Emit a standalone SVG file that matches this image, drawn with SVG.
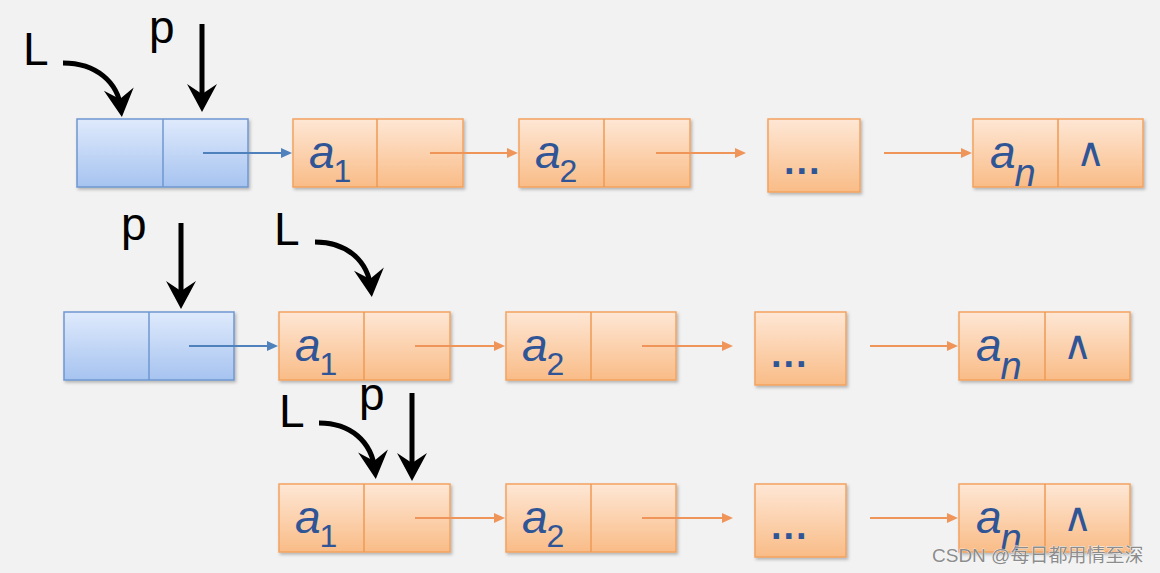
<svg xmlns="http://www.w3.org/2000/svg" width="1160" height="573" viewBox="0 0 1160 573">
<defs>
<linearGradient id="gBlue" x1="0" y1="0" x2="0" y2="1">
<stop offset="0" stop-color="#dfeafc"/><stop offset="1" stop-color="#a6c3f0"/>
</linearGradient>
<linearGradient id="gOrange" x1="0" y1="0" x2="0" y2="1">
<stop offset="0" stop-color="#fee7d5"/><stop offset="1" stop-color="#f9bc87"/>
</linearGradient>
<filter id="sh" x="-10%" y="-10%" width="130%" height="140%">
<feDropShadow dx="1.5" dy="2" stdDeviation="1.5" flood-color="#000" flood-opacity="0.25"/>
</filter>
<marker id="big" markerUnits="userSpaceOnUse" viewBox="-22 -17 32 34" refX="0" refY="0" markerWidth="32" markerHeight="34" orient="auto">
<path d="M8,0 L-20,-15 L-10,0 L-20,15 Z" fill="#000"/>
</marker>
<marker id="sb" markerUnits="userSpaceOnUse" viewBox="-10 -6 14 12" refX="0" refY="0" markerWidth="14" markerHeight="12" orient="auto">
<path d="M3,0 L-8,-5 L-8,5 Z" fill="#4f81bd"/>
</marker>
<marker id="so" markerUnits="userSpaceOnUse" viewBox="-10 -6 14 12" refX="0" refY="0" markerWidth="14" markerHeight="12" orient="auto">
<path d="M3,0 L-8,-5 L-8,5 Z" fill="#f0955a"/>
</marker>
<style>
.bn{fill:url(#gBlue);stroke:#6f97d0;stroke-width:1.5;filter:url(#sh)}
.bd{stroke:#6f97d0;stroke-width:1.5}
.on{fill:url(#gOrange);stroke:#f3a35f;stroke-width:1.5;filter:url(#sh)}
.od{stroke:#ee9a55;stroke-width:1.5}
.a{font-family:"Liberation Sans","DejaVu Sans",sans-serif;font-style:italic;font-size:46px;fill:#2f5597}
.sub{font-style:normal;font-size:32px}
.subn{font-size:38px}
.nil{font-family:"DejaVu Sans","Liberation Sans",sans-serif;font-size:40px;fill:#2f5597}
.dots{font-family:"Liberation Sans",sans-serif;font-weight:bold;font-size:38px;letter-spacing:2px;fill:#2f5597}
.lbl{font-family:"Liberation Sans","DejaVu Sans",sans-serif;font-size:46px;fill:#000}
.ptr{fill:none;stroke:#000;stroke-width:5;marker-end:url(#big)}
.cb{stroke:#4f81bd;stroke-width:2;marker-end:url(#sb)}
.co{stroke:#f0955a;stroke-width:2;marker-end:url(#so)}
.wm{font-family:"Liberation Sans","Noto Sans CJK SC",sans-serif;font-size:19px;fill:#8c8c8c;stroke:#fff;stroke-width:0.6;paint-order:stroke}
</style>
</defs>
<rect width="1160" height="573" fill="#f2f2f2"/>

<!-- Row 1 -->
<g id="r1-head"><rect class="bn" x="77" y="119" width="171" height="68"/><line class="bd" x1="163" y1="119" x2="163" y2="187"/></g>
<g id="r1-a1"><rect class="on" x="293" y="119" width="170" height="68"/><line class="od" x1="377" y1="119" x2="377" y2="187"/><text class="a" x="309" y="168">a<tspan class="sub" dx="-1" dy="14">1</tspan></text></g>
<g id="r1-a2"><rect class="on" x="519" y="119" width="171" height="68"/><line class="od" x1="604" y1="119" x2="604" y2="187"/><text class="a" x="535" y="168">a<tspan class="sub" dx="-1" dy="14">2</tspan></text></g>
<g id="r1-dots"><rect class="on" x="768" y="119" width="92" height="73"/><text class="dots" x="784" y="174">...</text></g>
<g id="r1-an"><rect class="on" x="973" y="119" width="170" height="68"/><line class="od" x1="1058" y1="119" x2="1058" y2="187"/><text class="a" x="990" y="168">a<tspan class="subn" dx="-1" dy="18">n</tspan></text><text class="nil" x="1076" y="166">∧</text></g>
<g id="r1-L"><text class="lbl" x="23" y="65">L</text></g>
<g id="r1-p"><text class="lbl" x="149" y="43">p</text></g>

<!-- Row 2 -->
<g id="r2-head"><rect class="bn" x="64" y="312" width="170" height="68"/><line class="bd" x1="149" y1="312" x2="149" y2="380"/></g>
<g id="r2-a1"><rect class="on" x="279" y="312" width="171" height="68"/><line class="od" x1="364" y1="312" x2="364" y2="380"/><text class="a" x="295" y="361">a<tspan class="sub" dx="-1" dy="14">1</tspan></text></g>
<g id="r2-a2"><rect class="on" x="506" y="312" width="170" height="68"/><line class="od" x1="591" y1="312" x2="591" y2="380"/><text class="a" x="522" y="361">a<tspan class="sub" dx="-1" dy="14">2</tspan></text></g>
<g id="r2-dots"><rect class="on" x="755" y="312" width="91" height="73"/><text class="dots" x="771" y="367">...</text></g>
<g id="r2-an"><rect class="on" x="959" y="312" width="171" height="68"/><line class="od" x1="1045" y1="312" x2="1045" y2="380"/><text class="a" x="976" y="361">a<tspan class="subn" dx="-1" dy="18">n</tspan></text><text class="nil" x="1063" y="359">∧</text></g>
<g id="r2-p"><text class="lbl" x="121" y="240">p</text></g>
<g id="r2-L"><text class="lbl" x="274" y="245">L</text></g>

<!-- Row 3 -->
<g id="r3-a1"><rect class="on" x="279" y="484" width="171" height="68"/><line class="od" x1="364" y1="484" x2="364" y2="552"/><text class="a" x="295" y="533">a<tspan class="sub" dx="-1" dy="14">1</tspan></text></g>
<g id="r3-a2"><rect class="on" x="506" y="484" width="170" height="68"/><line class="od" x1="591" y1="484" x2="591" y2="552"/><text class="a" x="522" y="533">a<tspan class="sub" dx="-1" dy="14">2</tspan></text></g>
<g id="r3-dots"><rect class="on" x="755" y="484" width="91" height="73"/><text class="dots" x="771" y="539">...</text></g>
<g id="r3-an"><rect class="on" x="959" y="484" width="171" height="68"/><line class="od" x1="1045" y1="484" x2="1045" y2="552"/><text class="a" x="976" y="533">a<tspan class="subn" dx="-1" dy="18">n</tspan></text><text class="nil" x="1063" y="531">∧</text></g>
<g id="r3-L"><text class="lbl" x="279" y="427">L</text></g>
<g id="r3-p"><text class="lbl" x="359" y="410">p</text></g>

<!-- Connectors -->
<g id="connectors">
<path class="ptr" d="M63,63 C96,63 118,82 121,109"/>
<line class="ptr" x1="202" y1="24" x2="202" y2="104"/>
<line class="cb" x1="203" y1="153" x2="289" y2="153"/>
<line class="co" x1="430" y1="153" x2="515" y2="153"/>
<line class="co" x1="656" y1="153" x2="743" y2="153"/>
<line class="co" x1="884" y1="153" x2="969" y2="153"/>

<line class="ptr" x1="181" y1="223" x2="181" y2="301"/>
<path class="ptr" d="M315,242 C346,242 368,260 371,289"/>
<line class="cb" x1="189" y1="346" x2="275" y2="346"/>
<line class="co" x1="415" y1="346" x2="502" y2="346"/>
<line class="co" x1="642" y1="346" x2="730" y2="346"/>
<line class="co" x1="870" y1="346" x2="955" y2="346"/>

<path class="ptr" d="M319,423 C350,423 372,441 375,471"/>
<line class="ptr" x1="412" y1="393" x2="412" y2="473"/>
<line class="co" x1="415" y1="518" x2="502" y2="518"/>
<line class="co" x1="642" y1="518" x2="730" y2="518"/>
<line class="co" x1="870" y1="518" x2="955" y2="518"/>
</g>

<text class="wm" x="932" y="562">CSDN @每日都用情至深</text>
</svg>
